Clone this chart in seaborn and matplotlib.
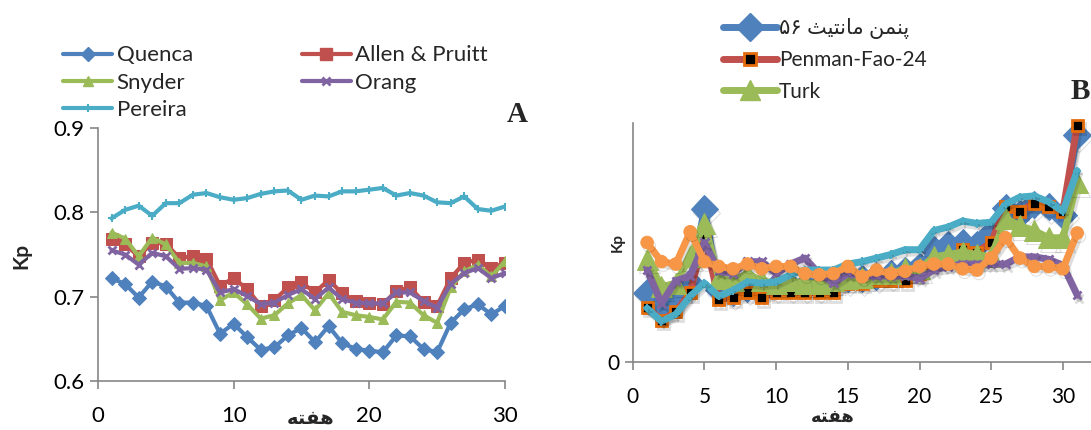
import matplotlib
matplotlib.use("Agg")
import matplotlib.pyplot as plt
import matplotlib.patheffects as pe
from matplotlib.lines import Line2D
import seaborn as sns

sns.set_style("white")
plt.rcParams['font.family'] = ['Lato', 'DejaVu Sans']

# ---- panel A data (weeks 1..30) ----
weeks_a = list(range(1, 31))
quenca = [0.722, 0.715, 0.699, 0.718, 0.712, 0.693, 0.693, 0.689, 0.656, 0.668,
          0.652, 0.637, 0.640, 0.654, 0.663, 0.646, 0.665, 0.645, 0.638, 0.636,
          0.634, 0.654, 0.653, 0.638, 0.634, 0.669, 0.685, 0.691, 0.679, 0.689]
allen = [0.768, 0.762, 0.748, 0.764, 0.763, 0.746, 0.748, 0.745, 0.713, 0.722,
         0.709, 0.689, 0.696, 0.711, 0.717, 0.705, 0.720, 0.704, 0.695, 0.692,
         0.691, 0.707, 0.711, 0.694, 0.689, 0.722, 0.740, 0.744, 0.734, 0.740]
snyder = [0.776, 0.769, 0.748, 0.770, 0.762, 0.740, 0.740, 0.736, 0.696, 0.705,
          0.691, 0.674, 0.678, 0.692, 0.702, 0.684, 0.704, 0.682, 0.678, 0.676,
          0.673, 0.694, 0.693, 0.678, 0.669, 0.711, 0.730, 0.738, 0.724, 0.742]
orang = [0.755, 0.750, 0.738, 0.752, 0.748, 0.733, 0.734, 0.732, 0.705, 0.709,
         0.701, 0.691, 0.693, 0.702, 0.709, 0.697, 0.711, 0.697, 0.693, 0.692,
         0.692, 0.705, 0.705, 0.695, 0.687, 0.715, 0.728, 0.734, 0.722, 0.728]
pereira = [0.793, 0.803, 0.808, 0.796, 0.811, 0.811, 0.821, 0.823, 0.818, 0.815,
           0.817, 0.822, 0.825, 0.826, 0.815, 0.820, 0.819, 0.825, 0.825, 0.827,
           0.829, 0.820, 0.823, 0.820, 0.812, 0.811, 0.819, 0.804, 0.802, 0.807]

# ---- panel B data (weeks 1..31, y axis only labelled at 0) ----
weeks_b = list(range(1, 32))
pm56 = [0.29, 0.24, 0.27, 0.33, 0.64, 0.30, 0.29, 0.31, 0.31, 0.32,
        0.32, 0.32, 0.32, 0.33, 0.35, 0.35, 0.36, 0.37, 0.38, 0.40,
        0.47, 0.49, 0.50, 0.49, 0.54, 0.645, 0.62, 0.66, 0.65, 0.615, 0.95]
fao24 = [0.23, 0.175, 0.21, 0.29, 0.53, 0.26, 0.27, 0.29, 0.27, 0.29,
         0.29, 0.29, 0.29, 0.29, 0.33, 0.33, 0.34, 0.34, 0.34, 0.37,
         0.41, 0.43, 0.47, 0.46, 0.50, 0.65, 0.63, 0.665, 0.65, 0.63, 0.99]
turk = [0.43, 0.315, 0.33, 0.44, 0.58, 0.35, 0.34, 0.37, 0.34, 0.33,
        0.34, 0.33, 0.33, 0.34, 0.35, 0.355, 0.37, 0.37, 0.39, 0.39,
        0.44, 0.45, 0.46, 0.45, 0.44, 0.60, 0.57, 0.55, 0.52, 0.52, 0.75]
purple_b = [0.385, 0.245, 0.34, 0.36, 0.50, 0.38, 0.37, 0.42, 0.42, 0.37,
            0.41, 0.435, 0.37, 0.33, 0.37, 0.36, 0.36, 0.36, 0.36, 0.35,
            0.385, 0.40, 0.41, 0.41, 0.41, 0.41, 0.44, 0.44, 0.43, 0.405, 0.28]
cyan_b = [0.225, 0.17, 0.20, 0.275, 0.33, 0.275, 0.30, 0.335, 0.33, 0.335,
          0.365, 0.385, 0.385, 0.385, 0.41, 0.42, 0.435, 0.45, 0.47, 0.47,
          0.55, 0.565, 0.59, 0.58, 0.585, 0.66, 0.69, 0.695, 0.67, 0.63, 0.80]
orange_b = [0.50, 0.42, 0.41, 0.545, 0.42, 0.40, 0.39, 0.41, 0.39, 0.40,
            0.40, 0.37, 0.365, 0.37, 0.40, 0.357, 0.385, 0.37, 0.38, 0.40,
            0.41, 0.41, 0.39, 0.385, 0.435, 0.52, 0.435, 0.40, 0.40, 0.39, 0.54]

# text; Persian strings written in shaped presentation forms, visual order
week_lbl = "\uFEEA\uFE98\uFED4\uFEEB"  # هفته
pm56_lbl = "\u06F5\u06F6 \uFE9A\uFBFF\uFE98\uFEE7\uFE8E\uFEE3 \uFEE6\uFEE4\uFEE8\uFB58"  # پنمن مانتیث ۵۶

BLUE, RED, GREEN, PURPLE, CYAN, ORANGE = '#4F81BD', '#C0504D', '#9BBB59', '#8064A2', '#4BACC6', '#F79646'
GRAY = '#868686'

fig = plt.figure(figsize=(10.91, 4.30), dpi=100)
axA = fig.add_axes([0.0898, 0.114, 0.373, 0.588])
axB = fig.add_axes([0.580, 0.158, 0.4205, 0.556])


def style_axis(ax, size):
    sns.despine(ax=ax)
    for s in ('left', 'bottom'):
        ax.spines[s].set_color(GRAY)
        ax.spines[s].set_linewidth(1.2)
    ax.tick_params(axis='both', colors=GRAY, length=6, width=1.2, direction='out',
                   labelcolor='black', labelsize=size, left=True, bottom=True)


# ---- panel A ----
specs_a = [
    (quenca, 'Quenca', BLUE, dict(marker='D', ms=7)),
    (allen, 'Allen & Pruitt', RED, dict(marker='s', ms=8)),
    (snyder, 'Snyder', GREEN, dict(marker='^', ms=7)),
    (orang, 'Orang', PURPLE, dict(marker='x', ms=6, mew=2)),
    (pereira, 'Pereira', CYAN, dict(marker='+', ms=6, mew=1.5)),
]
hA = {}
for vals, name, col, mk in specs_a:
    sns.lineplot(x=weeks_a, y=vals, ax=axA, color=col, lw=3, mec=col, mfc=col,
                 solid_joinstyle='round', legend=False, **mk)
    hA[name] = Line2D([], [], color=col, lw=3, mec=col, mfc=col, **mk)

axA.set_xlim(0, 30)
axA.set_ylim(0.6, 0.9)
axA.set_xticks([0, 10, 20, 30])
axA.set_yticks([0.6, 0.7, 0.8, 0.9])
axA.set_yticklabels(['0.6', '0.7', '0.8', '0.9'])
style_axis(axA, 16)
axA.tick_params(axis='x', pad=12)
axA.set_xlabel('')
axA.set_ylabel('')

order = ['Quenca', 'Snyder', 'Pereira', 'Allen & Pruitt', 'Orang']
fig.legend([hA[n] for n in order], order, loc='upper left', ncol=2,
           bbox_to_anchor=(0.050, 0.915), frameon=False, fontsize=16,
           handlelength=2.2, handletextpad=0.2, columnspacing=4.9,
           labelspacing=0.32, borderaxespad=0)

fig.text(0.020, 0.405, 'Kp', rotation=90, fontsize=15, fontweight='bold',
         ha='center', va='center')
fig.text(0.285, 0.027, week_lbl, fontsize=14, fontweight='bold', ha='center',
         va='center', family='DejaVu Sans')
fig.text(0.474, 0.733, 'A', fontsize=21, fontweight='bold', family='Liberation Serif',
         ha='center', va='center')

# ---- panel B ----
shadow = [pe.SimpleLineShadow(offset=(1.5, -2.5), shadow_color='black', alpha=0.13),
          pe.Normal()]
specs_b = [
    (pm56, pm56_lbl, BLUE, dict(marker='D', ms=14, mfc=BLUE, mec=BLUE)),
    (fao24, 'Penman-Fao-24', RED, dict(marker='s', ms=8, mfc='black', mec='#E46C0A', mew=2)),
    (turk, 'Turk', GREEN, dict(marker='^', ms=15, mfc=GREEN, mec=GREEN)),
    (purple_b, '_p', PURPLE, dict(marker='x', ms=6, mew=2, mec=PURPLE)),
    (cyan_b, '_c', CYAN, dict(marker='+', ms=6, mew=1.5, mec=CYAN)),
    (orange_b, '_o', ORANGE, dict(marker='o', ms=9, mfc=ORANGE, mec=ORANGE)),
]
hB = []
for vals, name, col, mk in specs_b:
    ln = sns.lineplot(x=weeks_b, y=vals, ax=axB, color=col, lw=5,
                      solid_joinstyle='round', legend=False, clip_on=False, **mk)
    ln.lines[-1].set_path_effects(shadow)
    if not name.startswith('_'):
        hB.append((Line2D([], [], color=col, lw=5, **mk), name))

axB.set_xlim(0, 32)
axB.set_ylim(0, 1)
axB.set_xticks([0, 5, 10, 15, 20, 25, 30])
axB.set_yticks([0])
style_axis(axB, 15)
axB.tick_params(axis='x', pad=12)
axB.set_xlabel('')
axB.set_ylabel('')

fig.legend([h for h, _ in hB], [n for _, n in hB], loc='upper left',
           bbox_to_anchor=(0.655, 0.978), frameon=False, fontsize=15,
           handlelength=2.6, handletextpad=0.1, labelspacing=0.55,
           borderaxespad=0)

fig.text(0.566, 0.435, 'Kp', rotation=90, fontsize=11, fontweight='bold',
         ha='center', va='center')
fig.text(0.763, 0.03, week_lbl, fontsize=13, fontweight='bold', ha='center',
         va='center', family='DejaVu Sans')
fig.text(0.99, 0.787, 'B', fontsize=21, fontweight='bold', family='Liberation Serif',
         ha='center', va='center')

fig.savefig('out.png', dpi=100, facecolor='white')
